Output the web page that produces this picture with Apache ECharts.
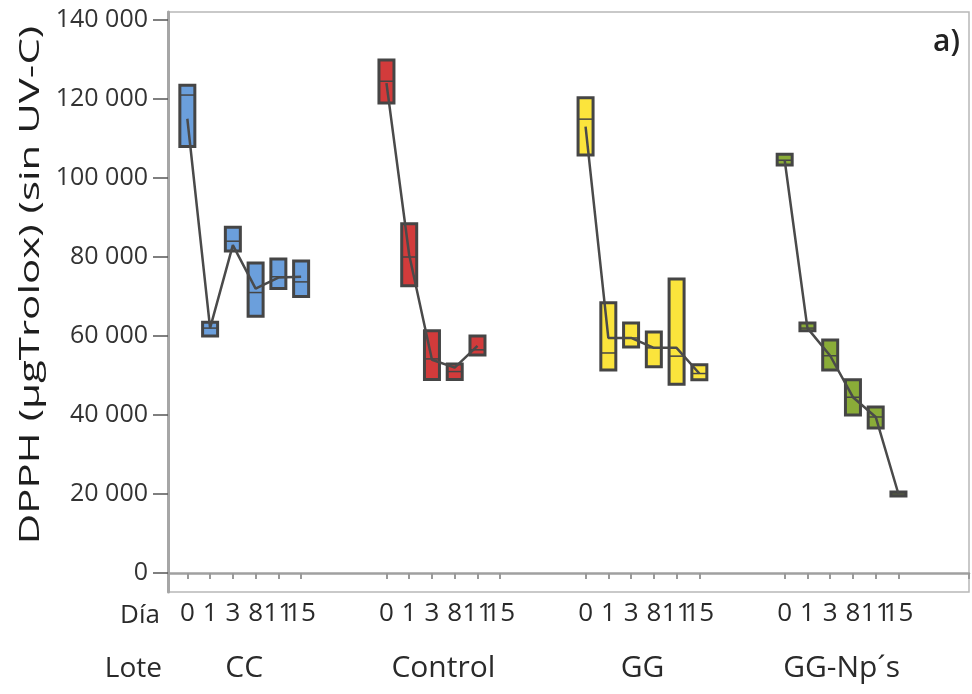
<!DOCTYPE html>
<html><head><meta charset="utf-8">
<script src="https://cdn.jsdelivr.net/npm/echarts@6/dist/echarts.min.js"></script>
<style>html,body{margin:0;padding:0;background:#fff}#c{width:972px;height:694px}</style>
</head><body><div id="c"></div>
<script>
// ---- data ----
const groups = ['CC', 'Control', 'GG', 'GG-Np´s'];
const days = ['0', '1', '3', '8', '11', '15'];
const yTicks = [0, 20000, 40000, 60000, 80000, 100000, 120000, 140000];

const ccLow    = [108000, 60000, 81500, 65000, 72000, 70000];
const ccHigh   = [123500, 63500, 87500, 78500, 79500, 79000];
const ccMed    = [121000, 62000, 84000, 71000, 75000, 73700];
const ccMean   = [115000, 62000, 83000, 72000, 74800, 75000];

const ctlLow   = [119000, 72700, 49000, 49000, 55200];
const ctlHigh  = [129900, 88400, 61300, 52900, 60000];
const ctlMed   = [124500, 80000, 54200, 51000, 56500];
const ctlMean  = [124000, 80500, 54000, 52000, 57500];

const ggLow    = [105800, 51400, 57200, 52200, 47800, 48900];
const ggHigh   = [120300, 68400, 63300, 61000, 74400, 52700];
const ggMed    = [114900, 55700, 59500, 57000, 54900, 50500];
const ggMean   = [113000, 59500, 59500, 57000, 57000, 50500];

const npLow    = [103300, 61300, 51400, 40000, 36700, 19500];
const npHigh   = [106000, 63300, 59000, 48900, 42000, 20500];
const npMed    = [104500, 62000, 55000, 44500, 39500, 20000];
const npMean   = [104500, 62000, 55000, 44500, 39500, 20000];

const groupData = [
  {low: ccLow, high: ccHigh, med: ccMed, mean: ccMean},
  {low: ctlLow, high: ctlHigh, med: ctlMed, mean: ctlMean},
  {low: ggLow, high: ggHigh, med: ggMed, mean: ggMean},
  {low: npLow, high: npHigh, med: npMed, mean: npMean}
];

// ---- layout (slot scale on x) ----
const GROUP_SPAN = 8.75, DAY_OFFSET = 0.85, X_MAX = 35.2;
const colors = ['#6b9fdc', '#d23b3b', '#fbe43c', '#8aac38'];
const FONT = '"Open Sans", "Noto Sans", sans-serif';
const xPos = (g, d) => g * GROUP_SPAN + DAY_OFFSET + d;

const dayTickVals = [], dayLabelMap = {};
groups.forEach((g, gi) => days.forEach((d, di) => {
  const v = xPos(gi, di); dayTickVals.push(v); dayLabelMap[v.toFixed(2)] = d;
}));
dayTickVals.push(X_MAX);
const groupTickVals = [], groupLabelMap = {};
groups.forEach((g, gi) => {
  const v = xPos(gi, (days.length - 1) / 2); groupTickVals.push(v); groupLabelMap[v.toFixed(2)] = g;
});
groupTickVals.push(X_MAX);

const series = [];
groupData.forEach((gd, gi) => {
  const boxData = [];
  gd.low.forEach((lo, di) => boxData.push([xPos(gi, di), lo, gd.high[di], gd.med[di]]));
  series.push({
    type: 'custom',
    z: 2,
    data: boxData,
    encode: {x: 0, y: [1, 2]},
    renderItem: (params, api) => {
      const x = api.value(0);
      const pLo = api.coord([x, api.value(1)]);
      const pHi = api.coord([x, api.value(2)]);
      const pMd = api.coord([x, api.value(3)]);
      const w = 15;
      return {
        type: 'group',
        children: [
          {type: 'rect', shape: {x: pHi[0] - w / 2, y: pHi[1], width: w, height: Math.max(pLo[1] - pHi[1], 1)},
           style: {fill: colors[gi], stroke: '#454545', lineWidth: 3}},
          {type: 'line', shape: {x1: pMd[0] - w / 2, y1: pMd[1], x2: pMd[0] + w / 2, y2: pMd[1]},
           style: {stroke: '#454545', lineWidth: 1.5}}
        ]
      };
    }
  });
  series.push({
    type: 'line',
    z: 3,
    data: gd.mean.map((m, di) => [xPos(gi, di), m]),
    symbol: 'none',
    lineStyle: {color: '#4a4a4a', width: 2.5},
    silent: true
  });
});

const chart = echarts.init(document.getElementById('c'));
chart.setOption({
  animation: false,
  backgroundColor: '#ffffff',
  textStyle: {fontFamily: FONT},
  grid: {left: 168, top: 12, right: 2, bottom: 102, show: true, borderColor: '#b8b8b8', borderWidth: 1.5},
  xAxis: [
    {
      type: 'value', min: 0, max: X_MAX, position: 'bottom',
      splitLine: {show: false},
      axisLine: {lineStyle: {color: '#a0a0a0', width: 2.5}},
      axisTick: {customValues: dayTickVals, length: 6, lineStyle: {color: '#9a9a9a', width: 2}},
      axisLabel: {customValues: dayTickVals, margin: 9, fontSize: 26, color: '#2a2a2a', fontFamily: FONT,
        hideOverlap: false, formatter: v => dayLabelMap[v.toFixed(2)] || ''}
    },
    {
      type: 'value', min: 0, max: X_MAX, position: 'bottom', offset: 50,
      splitLine: {show: false},
      axisLine: {show: false},
      axisTick: {show: false},
      axisLabel: {customValues: groupTickVals, margin: 11, fontSize: 30, color: '#2a2a2a', fontFamily: FONT,
        formatter: v => groupLabelMap[v.toFixed(2)] || ''}
    }
  ],
  yAxis: {
    type: 'value', min: -4810, max: 142025,
    splitLine: {show: false},
    axisLine: {show: true, lineStyle: {color: '#a6a6a6', width: 3}},
    axisTick: {show: true, customValues: yTicks, length: 15, lineStyle: {color: '#555', width: 1.5}},
    axisLabel: {customValues: yTicks, margin: 20, fontSize: 25, color: '#333', fontFamily: FONT,
      formatter: v => String(v).replace(/\B(?=(\d{3})+(?!\d))/g, ' ')}
  },
  graphic: [
    {type: 'text', rotation: Math.PI / 2, x: 31, y: 285, scaleX: 1.5,
     style: {text: 'DPPH (µgTrolox) (sin UV-C)', font: '28px ' + FONT, fill: '#1e1e1e', align: 'center', verticalAlign: 'middle'}},
    {type: 'text', x: 960, y: 42,
     style: {text: 'a)', font: '600 30px ' + FONT, fill: '#222', align: 'right', verticalAlign: 'middle'}},
    {type: 'text', x: 160, y: 616,
     style: {text: 'Día', font: '26px ' + FONT, fill: '#2a2a2a', align: 'right', verticalAlign: 'middle'}},
    {type: 'text', x: 162, y: 669,
     style: {text: 'Lote', font: '28px ' + FONT, fill: '#2a2a2a', align: 'right', verticalAlign: 'middle'}}
  ],
  series: series
});
</script></body></html>
